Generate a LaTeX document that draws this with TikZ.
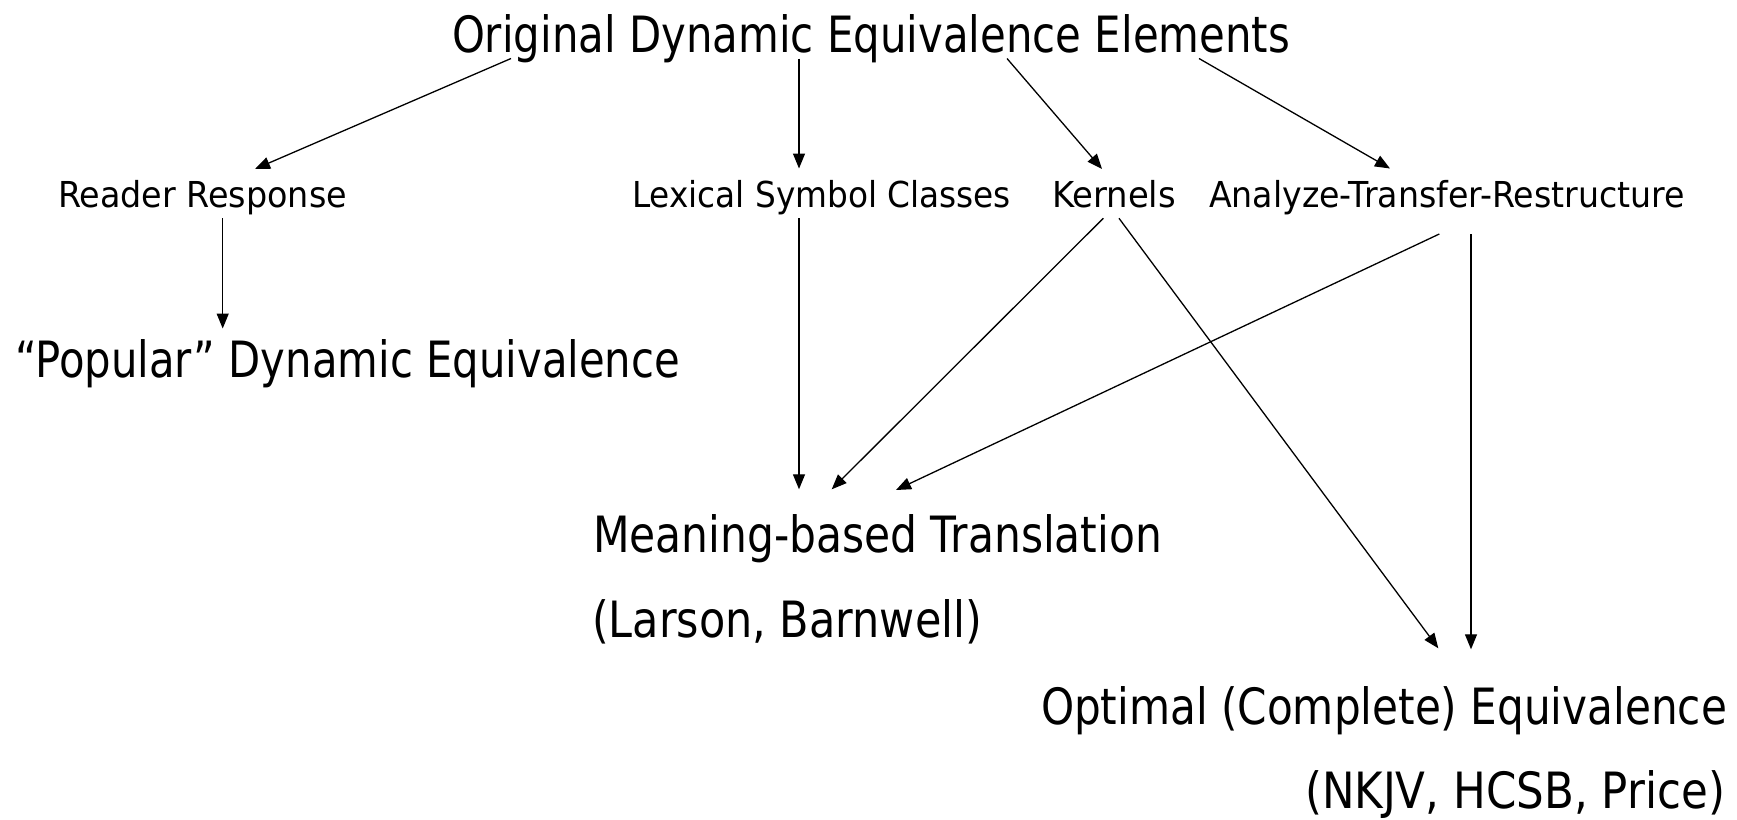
\documentclass[tikz,border=0pt]{standalone}
\usepackage{fontspec}
\setmainfont{DejaVu Sans}
\usetikzlibrary{arrows.meta,calc}
\newcommand{\bigtxt}[2]{\resizebox{#1pt}{\height}{\fontsize{50}{60}\selectfont #2}}
\newcommand{\smltxt}[2]{\resizebox{#1pt}{\height}{\fontsize{35.7}{43}\selectfont #2}}
\begin{document}
\begin{tikzpicture}[x=1pt,y=-1pt,
  lbl/.style={inner sep=0pt, outer sep=0pt, anchor=base west},
  arr/.style={-{Triangle[length=15pt,width=12pt]}, line width=1.3pt}]
\useasboundingbox (0,0) rectangle (1737,819);
% nodes
\node[lbl] (title) at (452,52) {\bigtxt{838}{Original Dynamic Equivalence Elements}};
\node[lbl] (rr)  at (58,207)   {\smltxt{289}{Reader Response}};
\node[lbl] (lex) at (632,207)  {\smltxt{379}{Lexical Symbol Classes}};
\node[lbl] (ker) at (1052,207) {\smltxt{124}{Kernels}};
\node[lbl] (atr) at (1209,207) {\smltxt{476}{Analyze-Transfer-Restructure}};
\node[lbl] (pop) at (15,377)   {\bigtxt{665}{“Popular” Dynamic Equivalence}};
\node[lbl] (mbt) at (593,552)  {\bigtxt{569}{Meaning-based Translation}};
\node[lbl] (lb)  at (592,637)  {\bigtxt{390}{(Larson, Barnwell)}};
\node[lbl] (opt) at (1041,724) {\bigtxt{686}{Optimal (Complete) Equivalence}};
\node[lbl] (nk)  at (1305,808) {\bigtxt{420}{(NKJV, HCSB, Price)}};
% connectors
\draw[arr] ($(title.base west)+(59,6.5)$)  -- ($(rr.base west)+(197,-38)$);
\draw[arr] ($(title.base west)+(347,6.5)$) -- ($(lex.base west)+(167,-38.5)$);
\draw[arr] ($(title.base west)+(555,6.5)$) -- ($(ker.base west)+(50,-38)$);
\draw[arr] ($(title.base west)+(747,6.5)$) -- ($(atr.base west)+(181,-38.5)$);
\draw[arr] ($(rr.base west)+(164.7,11.3)$) -- ($(pop.base west)+(207.7,-48.5)$);
\draw[arr] ($(lex.base west)+(167,11.3)$)  -- ($(mbt.base west)+(206,-62.7)$);
\draw[arr] ($(ker.base west)+(51.3,11.3)$) -- ($(mbt.base west)+(238.7,-62.7)$);
\draw[arr] ($(atr.base west)+(230.3,27)$)  -- ($(mbt.base west)+(303,-62)$);
\draw[arr] ($(ker.base west)+(67,11.3)$)   -- ($(opt.base west)+(397.3,-75.7)$);
\draw[arr] ($(atr.base west)+(262,27)$)    -- ($(opt.base west)+(430,-74.7)$);
\end{tikzpicture}
\end{document}
